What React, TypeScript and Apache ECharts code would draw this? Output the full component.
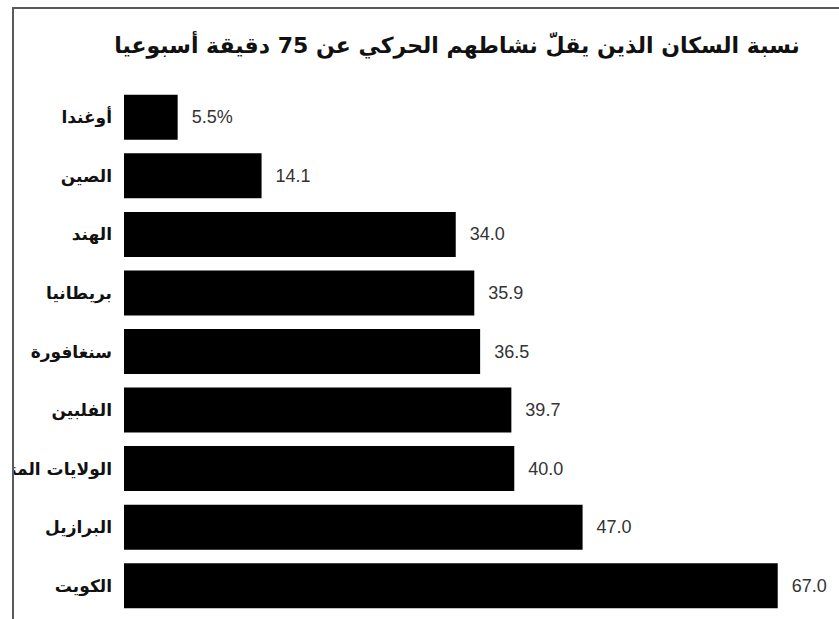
import React, { useEffect, useRef } from "react";
import * as echarts from "echarts";

const titleText = "نسبة السكان الذين يقلّ نشاطهم الحركي عن 75 دقيقة أسبوعيا";
const categories = [
  "أوغندا",
  "الصين",
  "الهند",
  "بريطانيا",
  "سنغافورة",
  "الفلبين",
  "الولايات المتحدة",
  "البرازيل",
  "الكويت",
];
const values = [5.5, 14.1, 34.0, 35.9, 36.5, 39.7, 40.0, 47.0, 67.0];

export default function App() {
  const ref = useRef<HTMLDivElement>(null);
  useEffect(() => {
    if (!ref.current) return;
    const chart = echarts.init(ref.current, null, { renderer: "svg" });
    chart.setOption({
      animation: false,
      backgroundColor: "#ffffff",
      graphic: [
        {
          type: "rect",
          z: 100,
          shape: { x: 0, y: 0, width: 12, height: 619 },
          style: { fill: "#ffffff" },
        },
        {
          type: "line",
          z: 101,
          shape: { x1: 12, y1: 8, x2: 839, y2: 8 },
          style: { stroke: "#5a5a5a", lineWidth: 2 },
        },
        {
          type: "line",
          z: 101,
          shape: { x1: 13, y1: 8, x2: 13, y2: 619 },
          style: { stroke: "#5a5a5a", lineWidth: 2 },
        },
        {
          type: "text",
          z: 101,
          x: 457,
          y: 45,
          style: {
            text: titleText,
            font: "bold 22px 'DejaVu Sans'",
            fill: "#111",
            textAlign: "center",
            textVerticalAlign: "middle",
          },
        },
      ],
      grid: {
        left: 124,
        right: 32,
        top: 88,
        bottom: 4,
        containLabel: false,
        outerBoundsMode: "none",
      },
      xAxis: {
        type: "value",
        min: 0,
        max: 70,
        show: false,
      },
      yAxis: {
        type: "category",
        inverse: true,
        data: categories,
        axisLine: { show: false },
        axisTick: { show: false },
        splitLine: { show: false },
        axisLabel: {
          margin: 12,
          color: "#111",
          fontFamily: "DejaVu Sans",
          fontWeight: "bold",
          fontSize: 17,
        },
      },
      series: [
        {
          type: "bar",
          data: values,
          barWidth: 45,
          itemStyle: { color: "#000" },
          label: {
            show: true,
            position: "right",
            distance: 14,
            color: "#333",
            fontFamily: "Liberation Sans",
            fontSize: 18,
            formatter: (p: any) =>
              p.dataIndex === 0 ? p.value.toFixed(1) + "%" : p.value.toFixed(1),
          },
        },
      ],
    });
    return () => chart.dispose();
  }, []);
  return (
    <div
      ref={ref}
      style={{ position: "absolute", left: 0, top: 0, width: 839, height: 619 }}
    />
  );
}
